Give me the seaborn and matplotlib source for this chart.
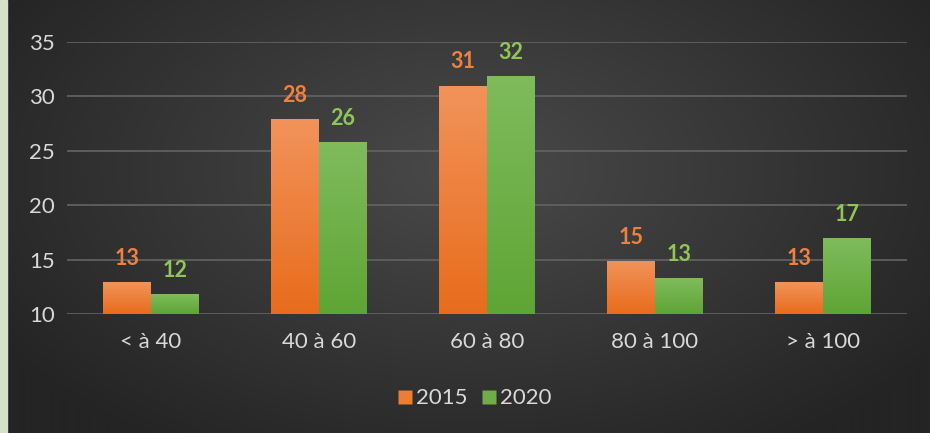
import numpy as np
import pandas as pd
import matplotlib
matplotlib.use("Agg")
import matplotlib.pyplot as plt
from matplotlib.patches import Rectangle
from matplotlib.lines import Line2D
from matplotlib.colors import LinearSegmentedColormap
import seaborn as sns

categories = ["< à 40", "40 à 60", "60 à 80", "80 à 100", "> à 100"]
series_names = ["2015", "2020"]
values_2015 = [12.9, 27.9, 31.0, 14.9, 12.9]
values_2020 = [11.8, 25.8, 31.9, 13.3, 17.0]
labels_2015 = ["13", "28", "31", "15", "13"]
labels_2020 = ["12", "26", "32", "13", "17"]
y_ticks = [10, 15, 20, 25, 30, 35]

orange = "#ed7d31"
green = "#70ad47"
orange_top, orange_bot = "#f2935a", "#e86c1c"
green_top, green_bot = "#80bb5c", "#5ea535"
orange_lbl = "#ee8140"
green_lbl = "#8fc655"
text_col = "#d9d9d9"

sns.set_theme(style="dark")
plt.rcParams["font.family"] = ["Lato", "DejaVu Sans"]

df = pd.DataFrame({
    "cat": categories * 2,
    "year": [series_names[0]] * 5 + [series_names[1]] * 5,
    "val": values_2015 + values_2020,
})

fig = plt.figure(figsize=(9.3, 4.33), dpi=100)

# background radial gradient
bg = fig.add_axes([0, 0, 1, 1], zorder=-10)
yy, xx = np.mgrid[0:433, 0:930]
cx, cy = 470, 170
r = np.sqrt(((xx - cx) / 560.0) ** 2 + ((yy - cy) / 330.0) ** 2)
r = np.clip(r, 0, 1)
c0 = np.array([0x4a, 0x4a, 0x4a]) / 255.0
c1 = np.array([0x24, 0x24, 0x24]) / 255.0
img = c0[None, None, :] * (1 - r[..., None]) + c1[None, None, :] * r[..., None]
bg.imshow(img, extent=[0, 930, 433, 0], aspect="auto")
bg.add_patch(Rectangle((0, 0), 7, 433, color="#d3e2c8"))
bg.set_xlim(0, 930)
bg.set_ylim(433, 0)
bg.axis("off")

ax = fig.add_axes([67 / 930, 1 - 314 / 433, 840 / 930, 272 / 433])
ax.patch.set_alpha(0)
sns.barplot(data=df, x="cat", y="val", hue="year", order=categories,
            hue_order=series_names, palette=[orange, green], width=0.57,
            saturation=1, ax=ax, legend=False, zorder=3)

ax.set_xlim(-0.5, 4.5)
ax.set_ylim(10, 35)
ax.set_yticks(y_ticks)
ax.grid(axis="y", color="#606060", linewidth=1.3, zorder=0)
ax.grid(axis="x", visible=False)
for s in ax.spines.values():
    s.set_visible(False)
ax.set_xlabel("")
ax.set_ylabel("")
ax.tick_params(axis="both", colors=text_col, labelsize=16, length=0)
ax.tick_params(axis="y", pad=9)
ax.tick_params(axis="x", pad=13)
for t in ax.get_yticklabels() + ax.get_xticklabels():
    t.set_color(text_col)

# gradient fill + labels
cmap_o = LinearSegmentedColormap.from_list("o", [orange_bot, orange_top])
cmap_g = LinearSegmentedColormap.from_list("g", [green_bot, green_top])
grad = np.linspace(0, 1, 256).reshape(-1, 1)
patches = list(ax.patches)
n = len(categories)
for i, p in enumerate(patches[: 2 * n]):
    is_o = i < n
    x0, w, h = p.get_x(), p.get_width(), p.get_height()
    p.set_edgecolor("none")
    im = ax.imshow(grad, cmap=cmap_o if is_o else cmap_g, origin="lower",
                   extent=[x0, x0 + w, 10, h], aspect="auto", zorder=4)
    im.set_clip_path(p)
    lab = (labels_2015 if is_o else labels_2020)[i % n]
    ax.text(x0 + w / 2, h + 1.2, lab, ha="center", va="bottom",
            color=orange_lbl if is_o else green_lbl, fontsize=15.5,
            fontweight="bold", zorder=5, clip_on=False)
ax.set_xlim(-0.5, 4.5)
ax.set_ylim(10, 35)

handles = [Line2D([], [], marker="s", linestyle="none", markersize=9.5,
                  markerfacecolor=c, markeredgecolor="none") for c in (orange, green)]
leg = fig.legend(handles, series_names, loc="center", bbox_to_anchor=(0.51, 0.08),
                 ncol=2, frameon=False, fontsize=16, handletextpad=0.15,
                 columnspacing=0.6, handlelength=0.7)
for t in leg.get_texts():
    t.set_color(text_col)

fig.savefig("out.png", dpi=100)
